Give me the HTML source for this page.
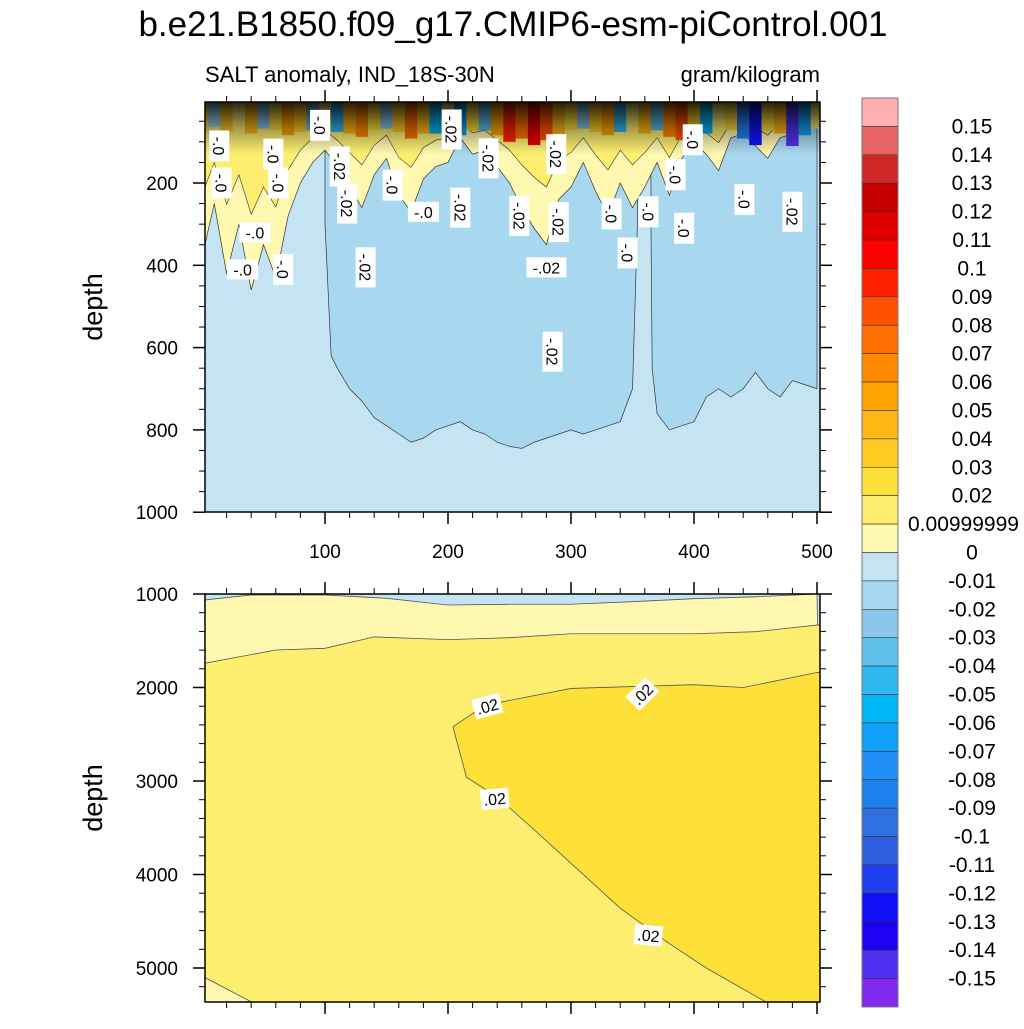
<!DOCTYPE html>
<html><head><meta charset="utf-8"><style>
body{margin:0;background:#fff}
svg text{font-family:"Liberation Sans",sans-serif;fill:#000}
</style></head><body>
<svg id="chart" width="1024" height="1024" viewBox="0 0 1024 1024" xmlns="http://www.w3.org/2000/svg">
<text x="513" y="36" font-size="35" text-anchor="middle">b.e21.B1850.f09_g17.CMIP6-esm-piControl.001</text>
<text x="205" y="82" font-size="22">SALT anomaly, IND_18S-30N</text>
<text x="820" y="82" font-size="22" text-anchor="end">gram/kilogram</text>
<text transform="translate(102,307) rotate(-90)" font-size="27" text-anchor="middle">depth</text>
<text transform="translate(102,798) rotate(-90)" font-size="27" text-anchor="middle">depth</text>
<g id="top"></g>
<g id="bot"></g>
<g id="cbar"></g>
</svg>
<script>
// ---- data ----
const cbColors=["#ffb0b0","#e86464","#d02828","#c80000","#e00000","#ff0000","#ff2000","#ff5000","#ff7000","#ff8800","#ffa400","#ffb814","#ffcc22","#fde038","#fdee70","#fff8b0","#c4e4f4","#a8d8f0","#8cc8ec","#60c0ec","#30b8f0","#00b4f8","#10a0f8","#2090f8","#2080f0","#3070e0","#3060e0","#2040f0","#1010f8","#2000f0","#5030f0","#8028f0"];
const cbLabels=["0.15","0.14","0.13","0.12","0.11","0.1","0.09","0.08","0.07","0.06","0.05","0.04","0.03","0.02","0.00999999","0","-0.01","-0.02","-0.03","-0.04","-0.05","-0.06","-0.07","-0.08","-0.09","-0.1","-0.11","-0.12","-0.13","-0.14","-0.15"];
const xTicks=[100,200,300,400,500];
const topYTicks=[200,400,600,800,1000];
const botYTicks=[1000,2000,3000,4000,5000];
const spikeX=[0,10,20,30,40,50,60,70,80,90,100,110,120,130,140,150,160,170,180,190,200,210,220,230,240,250,260,270,280,290,300,310,320,330,340,350,360,370,380,390,400,410,420,430,440,450,460,470,480,490,500];
const spikeDepth=[380,250,420,300,460,350,430,280,200,150,120,160,210,260,180,140,230,270,190,160,150,90,130,120,160,200,260,310,350,240,210,150,220,280,200,260,210,150,230,140,100,130,170,90,80,110,140,90,80,60,50];
const surfVals=[0.03,-0.01,0.04,0.02,0.05,-0.02,0.03,0.06,0.04,-0.03,0.02,-0.04,0.05,0.07,0.03,-0.02,0.04,0.08,0.05,-0.05,0.02,-0.06,0.03,-0.03,0.06,0.1,0.08,0.12,0.09,0.05,0.03,-0.02,0.04,0.06,-0.04,0.02,0.05,-0.03,0.07,0.09,0.04,-0.05,0.02,0.03,-0.08,-0.12,0.03,0.05,-0.14,-0.06,0.02];
const medXL=[100,105,110,120,130,140,150,160,170,180,190,200,210,220,230,240,250,260,270,280,290,300,310,320,330,340,350,354];
const medBotL=[300,620,650,700,730,770,790,810,830,820,800,790,780,800,810,830,840,845,830,820,810,800,810,800,790,780,700,300];
const medXR=[365,366,370,380,390,400,410,420,430,440,450,460,470,480,490,500];
const medBotR=[300,650,760,800,790,780,720,700,720,700,660,700,720,680,690,700];
const bX=[2,40,100,150,200,250,300,350,400,450,500];
const blueTop=[1064,1010,1010,1046,1118,1110,1110,1082,1050,1030,1000];
const lyX=[2,60,100,140,200,250,300,400,450,500];
const lyBound=[1741,1599,1581,1459,1488,1467,1425,1425,1403,1332];
const wUpX=[204,230,300,400,440,500];
const wUpD=[2420,2190,2010,1970,2000,1840];
const wLoX=[204,215,240,270,300,340,380,410,460,500];
const wLoD=[2420,2960,3170,3520,3880,4360,4740,5000,5375,5375];
const cornerX=[2,42];const cornerD=[5100,5375];

const NS="http://www.w3.org/2000/svg";
function mk(p,tag,a){const e=document.createElementNS(NS,tag);for(const k in a)e.setAttribute(k,a[k]);p.appendChild(e);return e;}
const L=205,R=820;
const sx=v=>202+v*1.23;
const tyT=d=>100.7+d*0.4115;
const tyB=d=>594+(d-1000)*0.0935;
const T0=102,T1=512,B0=594,B1=1002;
function colorFor(v){let i=Math.floor((0.16-v)/0.01);i=Math.max(0,Math.min(31,i));return cbColors[i];}

// ---- top panel ----
const tg=document.getElementById('top');
let cp=mk(tg,'clipPath',{id:'ct'});mk(cp,'rect',{x:L,y:T0,width:R-L,height:T1-T0});
const tc=mk(tg,'g',{'clip-path':'url(#ct)'});
let r=mk(tc,'rect',{x:L,y:T0,width:R-L,height:T1-T0,fill:"#c4e4f4"});

function region(xs,ds,name){
  let pts=xs.map((x,i)=>sx(x)+","+tyT(ds[i])).join(" ");
  pts=sx(xs[0])+","+tyT(0)+" "+pts+" "+sx(xs[xs.length-1])+","+tyT(0);
  const p=mk(tc,'polygon',{points:pts,fill:"#a8d8f0",stroke:"#333",'stroke-width':0.7});
  
}
region(medXL,medBotL,'minus002-region-left');
region(medXR,medBotR,'minus002-region-right');
(function(){
  let pts=spikeX.map((x,i)=>sx(x)+","+tyT(spikeDepth[i])).join(" ");
  pts=sx(0)+","+T0+" "+pts+" "+sx(500)+","+T0;
  const p=mk(tc,'polygon',{points:pts,fill:"#fff8b0",stroke:"#333",'stroke-width':0.7});
  
  let pts2=spikeX.map((x,i)=>sx(x)+","+tyT(spikeDepth[i]*0.6)).join(" ");
  pts2=sx(0)+","+T0+" "+pts2+" "+sx(500)+","+T0;
  const p2=mk(tc,'polygon',{points:pts2,fill:"#fdee70",stroke:"#333",'stroke-width':0.6});
  
})();
surfVals.forEach((v,i)=>{
  const x=spikeX[i];
  const h=tyT(60+Math.abs(v)*400);
  const s=mk(tc,'rect',{x:sx(x)-6.2,y:T0,width:12.4,height:Math.min(h,tyT(110))-T0,fill:colorFor(v)});
  
  
});
let defs=mk(tg,'defs',{});let lg=mk(defs,'linearGradient',{id:'dk',x1:0,y1:0,x2:0,y2:1});
mk(lg,'stop',{offset:'0','stop-color':'#000','stop-opacity':0.85});
mk(lg,'stop',{offset:'0.5','stop-color':'#000','stop-opacity':0.35});
mk(lg,'stop',{offset:'1','stop-color':'#000','stop-opacity':0});
let ov=mk(tc,'rect',{x:L,y:T0,width:R-L,height:tyT(130)-T0,fill:'url(#dk)'});

const tl=[[96,60,"-.0",90],[14,110,"-.0",90],[58,130,"-.0",90],[16,200,"-.0",90],[62,200,"-.0",90],[112,160,"-.02",90],[155,205,"-.0",90],[118,250,"-.02",90],[203,70,"-.02",90],[233,140,"-.02",90],[210,260,"-.02",90],[180,270,"-.0",0],[258,280,"-.02",90],[288,130,"-.02",90],[290,295,"-.02",90],[280,405,"-.02",0],[43,320,"-.0",0],[33,410,"-.0",0],[66,410,"-.0",90],[133,405,"-.02",90],[285,610,"-.02",90],[333,275,"-.0",90],[346,370,"-.0",90],[363,270,"-.0",90],[385,180,"-.0",90],[392,310,"-.0",90],[399,95,"-.0",90],[441,240,"-.0",90],[480,270,"-.02",90]];
tl.forEach(([x,d,t,a])=>{
  const g=mk(tg,'g',{transform:`translate(${sx(x)},${tyT(d)}) rotate(${a})`});
  
  
  const w=t.length*9+4;
  mk(g,'rect',{x:-w/2,y:-10,width:w,height:20,fill:'#fff'});
  const tx=mk(g,'text',{x:0,y:6,'font-size':16,'text-anchor':'middle'});tx.textContent=t;
});
let fr=mk(tg,'rect',{x:L,y:T0,width:R-L,height:T1-T0,fill:'none',stroke:'#000','stroke-width':1.5});


function axes(g,y0,y1,yfun,yt,minor,ymin,ymax,xlabels,name){
  for(let v=20;v<=500;v+=20){const x=sx(v);const maj=v%100==0;const len=maj?12:6;
    mk(g,'line',{x1:x,y1:y0,x2:x,y2:y0-len,stroke:'#000','stroke-width':maj?1.5:1});
    mk(g,'line',{x1:x,y1:y1,x2:x,y2:y1+len,stroke:'#000','stroke-width':maj?1.5:1});}
  for(let d=ymin;d<=ymax;d+=minor){const y=yfun(d);if(y<y0-0.5||y>y1+0.5)continue;const maj=yt.includes(d);const len=maj?12:6;
    mk(g,'line',{x1:L,y1:y,x2:L-len,y2:y,stroke:'#000','stroke-width':maj?1.5:1});
    mk(g,'line',{x1:R,y1:y,x2:R+len,y2:y,stroke:'#000','stroke-width':maj?1.5:1});}
  yt.forEach(d=>{const t=mk(g,'text',{x:178,y:yfun(d)+7,'font-size':19,'text-anchor':'end'});t.textContent=d;
    });
  if(xlabels)xTicks.forEach(v=>{const t=mk(g,'text',{x:sx(v),y:y1+46,'font-size':19,'text-anchor':'middle'});t.textContent=v;
    });
}
axes(tg,T0,T1,tyT,topYTicks,50,0,1000,true,'top');

// ---- bottom panel ----
const bg=document.getElementById('bot');
cp=mk(bg,'clipPath',{id:'cb'});mk(cp,'rect',{x:L,y:B0,width:R-L,height:B1-B0});
const bc=mk(bg,'g',{'clip-path':'url(#cb)'});
r=mk(bc,'rect',{x:L,y:B0,width:R-L,height:B1-B0,fill:"#c4e4f4"});

function poly(g,pts,fill,name){const p=mk(g,'polygon',{points:pts,fill:fill,stroke:'#555','stroke-width':0.8});
  return p;}
poly(bc,bX.map((x,i)=>sx(x)+","+tyB(blueTop[i])).join(" ")+` ${R+5},${B1+5} ${L-5},${B1+5}`,"#fff8b0",'zero-to-001-region');
poly(bc,`${L-5},${tyB(lyBound[0])} `+lyX.map((x,i)=>sx(x)+","+tyB(lyBound[i])).join(" ")+` ${R+5},${tyB(lyBound[lyBound.length-1])} ${R+5},${B1+5} ${L-5},${B1+5}`,"#fdee70",'001-to-002-region');
poly(bc,wUpX.map((x,i)=>sx(x)+","+tyB(wUpD[i])).join(" ")+` ${R+5},${tyB(1840)} ${R+5},${B1+5} `+wLoX.slice().reverse().map((x,i,a)=>sx(x)+","+tyB(wLoD[wLoD.length-1-i])).join(" "),"#fde038",'002-to-003-wedge');
poly(bc,`${L-5},${tyB(cornerD[0])} `+cornerX.map((x,i)=>sx(x)+","+tyB(cornerD[i])).join(" ")+` ${L-5},${B1+5}`,"#fff8b0",'corner-region');
[[232,2200,-15],[358,2070,-45],[238,3190,-5],[363,4650,5]].forEach(([x,d,a])=>{
  const g=mk(bg,'g',{transform:`translate(${sx(x)},${tyB(d)}) rotate(${a})`});
  
  
  mk(g,'rect',{x:-14,y:-10,width:28,height:20,fill:'#fff'});
  const t=mk(g,'text',{x:0,y:6,'font-size':16,'text-anchor':'middle'});t.textContent='.02';
});
fr=mk(bg,'rect',{x:L,y:B0,width:R-L,height:B1-B0,fill:'none',stroke:'#000','stroke-width':1.5});

axes(bg,B0,B1,tyB,botYTicks,200,1000,5400,false,'bottom');

// ---- colorbar ----
const cg=document.getElementById('cbar');
const cbTop=98,cbH=909/32;
cbColors.forEach((c,i)=>{const b=mk(cg,'rect',{x:862,y:cbTop+i*cbH,width:36,height:cbH,fill:c,stroke:'#333','stroke-width':0.6});
  });
mk(cg,'rect',{x:862,y:cbTop,width:36,height:909,fill:'none',stroke:'#777','stroke-width':1});
cbLabels.forEach((l,i)=>{const t=mk(cg,'text',{x:l.length>6?908:972,y:cbTop+(i+1)*cbH+7,'font-size':21,'text-anchor':l.length>6?'start':'middle'});t.textContent=l;
  });
</script>
</body></html>
